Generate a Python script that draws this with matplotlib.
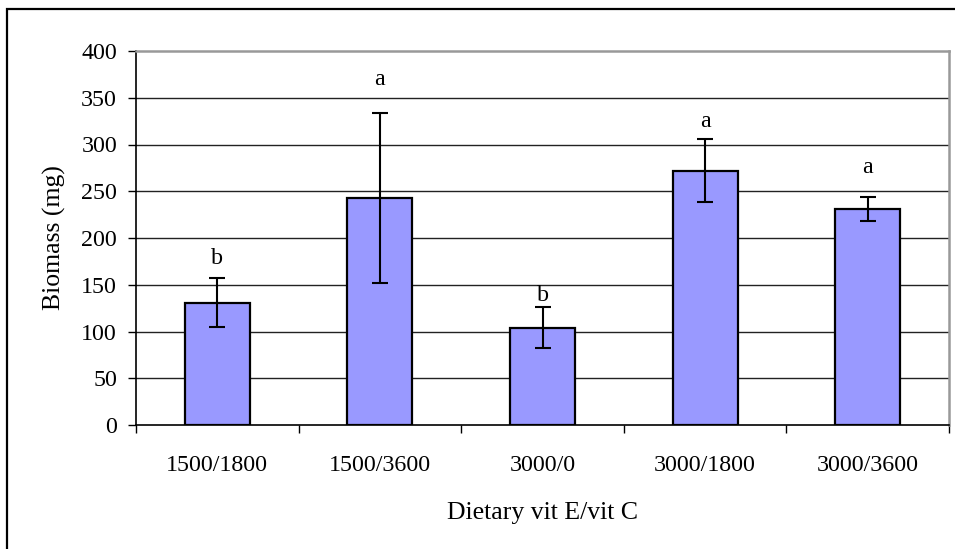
import matplotlib
matplotlib.use('Agg')

import matplotlib.pyplot as plt
import numpy as np
from matplotlib.patches import Rectangle


# ===============================
# DATA
# ===============================
diets = ["1500/1800", "1500/3600", "3000/0", "3000/1800", "3000/3600"]
biomass = [131, 243, 104, 272, 231]
biomass_err = [26, 91, 22, 34, 13]
groups = ["b", "a", "b", "a", "a"]
group_y = [178, 369, 138, 325, 275]


# ===============================
# STYLE
# ===============================
plt.rcParams['font.family'] = ['Liberation Serif', 'DejaVu Serif']
bar_color = '#9999FF'
px = 72 / 100  # points per pixel at dpi 100
tick_fs = 17.3
label_fs = 18.5

fig = plt.figure(figsize=(9.55, 5.49), dpi=100)
ax = fig.add_axes([136 / 955, 1 - 425 / 549, 813 / 955, 374 / 549])

x = np.arange(len(diets))

# gridlines behind bars
for v in range(50, 400, 50):
    ax.axhline(v, color='#222222', linewidth=1.0, zorder=1)

ax.bar(
    x,
    biomass,
    width=0.4,
    color=bar_color,
    edgecolor='black',
    linewidth=1.6,
    zorder=2
)

ax.errorbar(
    x,
    biomass,
    yerr=biomass_err,
    fmt='none',
    ecolor='black',
    elinewidth=1.5,
    capsize=5.5,
    capthick=1.5,
    zorder=3
)

for xi, g, gy in zip(x, groups, group_y):
    ax.text(xi, gy, g, ha='center', va='center', fontsize=tick_fs, zorder=4)

ax.set_xlim(-0.5, len(diets) - 0.5)
ax.set_ylim(0, 400)

# y axis
ax.set_yticks(np.arange(0, 401, 50))
ax.tick_params(axis='y', direction='out', length=8 * px, width=1.0,
               pad=11 * px, labelsize=tick_fs)

# x axis: ticks between categories, labels under the bars
ax.set_xticks(np.arange(-0.5, len(diets), 1.0))
ax.set_xticklabels([])
ax.set_xticks(x, minor=True)
ax.set_xticklabels(diets, minor=True)
ax.tick_params(axis='x', which='major', direction='out', length=8 * px, width=1.0)
ax.tick_params(axis='x', which='minor', length=0, pad=30 * px, labelsize=tick_fs)

ax.set_ylabel("Biomass (mg)", fontsize=label_fs, labelpad=11)
ax.set_xlabel("Dietary vit E/vit C", fontsize=label_fs, labelpad=19)

ax.spines['left'].set_color('black')
ax.spines['bottom'].set_color('black')
ax.spines['left'].set_linewidth(1.2)
ax.spines['bottom'].set_linewidth(1.2)
ax.spines['top'].set_color('#999999')
ax.spines['right'].set_color('#999999')
ax.spines['top'].set_linewidth(1.8)
ax.spines['right'].set_linewidth(1.8)

# outer chart frame
fig.add_artist(Rectangle(
    (7 / 955, -0.1),
    1.2,
    1 - 9 / 549 + 0.1,
    transform=fig.transFigure,
    fill=False,
    edgecolor='black',
    linewidth=1.6,
    clip_on=False
))

plt.savefig("out.png", dpi=100)
plt.close()
